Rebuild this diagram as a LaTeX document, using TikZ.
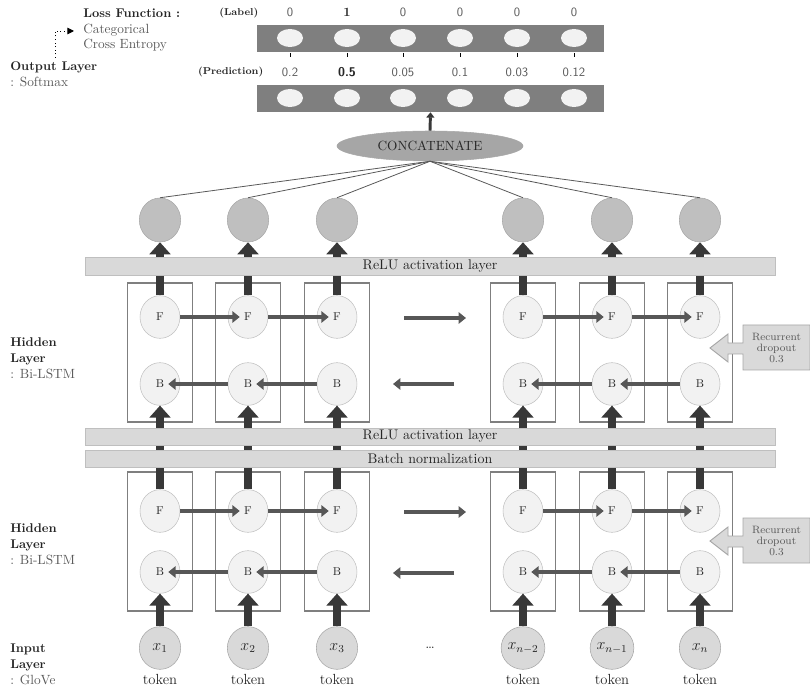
\documentclass[tikz,border=0pt]{standalone}
\usepackage{tikz}
\usetikzlibrary{arrows.meta,positioning,shapes.geometric,calc}
\definecolor{cellfill}{HTML}{F2F2F2}
\definecolor{celldraw}{HTML}{BFBFBF}
\definecolor{outfill}{HTML}{BFBFBF}
\definecolor{infill}{HTML}{D9D9D9}
\definecolor{ringdraw}{HTML}{A6A6A6}
\definecolor{barfill}{HTML}{D9D9D9}
\definecolor{boxdraw}{HTML}{7F7F7F}
\definecolor{darkarrow}{HTML}{383838}
\definecolor{midarrow}{HTML}{575757}
\definecolor{softtext}{HTML}{595959}
\definecolor{maintext}{HTML}{262626}
\definecolor{catfill}{HTML}{A6A6A6}
\definecolor{vecfill}{HTML}{7F7F7F}

\begin{document}
\begin{tikzpicture}[x=0.75pt,y=-0.75pt,
  every node/.style={text=maintext},
  cell/.style={ellipse,draw=celldraw,fill=cellfill,minimum width=30pt,minimum height=32pt,inner sep=0pt,font=\fontsize{8.5}{9}\selectfont},
  outcell/.style={ellipse,draw=ringdraw,fill=outfill,minimum width=31pt,minimum height=33pt,inner sep=0pt},
  incell/.style={ellipse,draw=ringdraw,fill=infill,minimum width=31pt,minimum height=32pt,inner sep=0pt,font=\fontsize{11.5}{12}\selectfont},
  unit/.style={ellipse,fill=cellfill,minimum width=19.5pt,minimum height=13.5pt,inner sep=0pt},
  colbox/.style={draw=boxdraw,line width=0.9pt},
  layerbar/.style={rectangle,draw=celldraw,fill=barfill,minimum width=517.5pt,inner sep=0pt,font=\fontsize{10.5}{11}\selectfont},
  vecbar/.style={rectangle,fill=vecfill,minimum width=260.25pt,minimum height=20.25pt,inner sep=0pt},
  upflow/.style={draw=darkarrow,line width=6.5pt,-{Triangle[width=15.5pt,length=9pt]}},
  sideflow/.style={draw=midarrow,line width=3pt,-{Triangle[width=8.5pt,length=5.5pt]},shorten >=-9pt},
  gapflow/.style={draw=midarrow,line width=3pt,-{Triangle[width=8.5pt,length=5.5pt]}},
  fanline/.style={draw=softtext,line width=0.6pt},
  dropbox/.style={draw=ringdraw,fill=barfill,line width=0.7pt},
  droptext/.style={align=center,font=\fontsize{8}{8.6}\selectfont,text=softtext},
  sidelabel/.style={anchor=west,align=left,inner sep=0pt},
  valtext/.style={font=\sffamily\fontsize{9.5}{10}\selectfont,text=softtext},
  tagtext/.style={font=\bfseries\fontsize{7.5}{8}\selectfont}]
\useasboundingbox (0,0) rectangle (810,691);

% output vectors
\node[vecbar] (lbar) at (430.5,38.5) {};
\node[vecbar] (pbar) at (430.5,98.5) {};
\node[tagtext,anchor=east] (ltag) at (263,13) {(Label)};
\node[tagtext,anchor=east] (ptag) at (268,72) {(Prediction)};
\foreach \i/\x/\lv/\pv in {1/290/0/0.2,2/347/{\rmfamily\bfseries\color{maintext}1}/{\bfseries\color{maintext}0.5},3/403/0/0.05,4/460/0/0.1,5/517/0/0.03,6/574/0/0.12}{
  \node[unit] (l\i) at (\x,38) {};
  \node[unit] (p\i) at (\x,98) {};
  \node[valtext] (lv\i) at (\x,12) {\lv};
  \node[valtext] (pv\i) at (\x,72) {\pv};
  \draw[densely dashed,line width=0.6pt] (\x,53) -- (\x,59);
}

% side labels
\node[sidelabel] (loss) at (83,30) {{\bfseries\fontsize{9.5}{15}\selectfont Loss Function :}\\
  {\fontsize{10}{14}\selectfont\color{softtext}Categorical}\\[-1pt]
  {\fontsize{10}{14}\selectfont\color{softtext}Cross Entropy}};
\node[sidelabel] (outlbl) at (10,74.5) {{\bfseries\fontsize{9.5}{11}\selectfont Output Layer}\\
  {\fontsize{10}{11}\selectfont\color{softtext}: Softmax}};
\coordinate (dotstart) at (55,58);
\coordinate (dotend) at (74,31);
\draw[dotted,line width=0.7pt,-{Triangle[width=5pt,length=5pt]}] (dotstart) |- (dotend);
\node[sidelabel] (hidup) at (10,358) {{\bfseries\fontsize{9.5}{11}\selectfont Hidden}\\
  {\bfseries\fontsize{9.5}{11}\selectfont Layer}\\
  {\fontsize{10}{11}\selectfont\color{softtext}: Bi-LSTM}};
\node[sidelabel] (hidlow) at (10,544) {{\bfseries\fontsize{9.5}{11}\selectfont Hidden}\\
  {\bfseries\fontsize{9.5}{11}\selectfont Layer}\\
  {\fontsize{10}{11}\selectfont\color{softtext}: Bi-LSTM}};
\node[sidelabel] (inlbl) at (10,664) {{\bfseries\fontsize{9.5}{11.5}\selectfont Input}\\
  {\bfseries\fontsize{9.5}{11.5}\selectfont Layer}\\
  {\fontsize{10}{11.5}\selectfont\color{softtext}: GloVe}};

% columns
\foreach \i/\x/\lab in {1/160/x_1,2/248/x_2,3/337/x_3,4/523/x_{n-2},5/612/x_{n-1},6/700/x_n}{
  \draw[colbox] (\x-32.5,283) rectangle (\x+32.5,422);
  \draw[colbox] (\x-32.5,472) rectangle (\x+32.5,611);
  \node[outcell] (o\i) at (\x,220) {};
  \node[cell] (fa\i) at (\x,317) {F};
  \node[cell] (ba\i) at (\x,384) {B};
  \node[cell] (fb\i) at (\x,511) {F};
  \node[cell] (bb\i) at (\x,572) {B};
  \node[incell] (in\i) at (\x,648) {$\lab$};
  \node[font=\fontsize{11}{12}\selectfont] (tok\i) at (\x,679) {token};
  \draw[upflow] (in\i) -- (bb\i);
  \draw[upflow] (fb\i) -- (ba\i);
  \draw[upflow] (fa\i) -- (o\i);
}
\node[font=\fontsize{11}{12}\selectfont] (dots) at (430,648) {\ldots};

% recurrent links
\foreach \a/\b in {1/2,2/3,4/5,5/6}{
  \draw[sideflow] (fa\a.east) -- (fa\b.west);
  \draw[sideflow] (ba\b.west) -- (ba\a.east);
  \draw[sideflow] (fb\a.east) -- (fb\b.west);
  \draw[sideflow] (bb\b.west) -- (bb\a.east);
}
\coordinate (gfa) at (404,318);
\coordinate (gfb) at (466,318);
\coordinate (gba) at (454,384);
\coordinate (gbb) at (393,384);
\draw[gapflow] (gfa) -- (gfb);
\draw[gapflow] (gba) -- (gbb);
\coordinate (hfa) at (404,512);
\coordinate (hfb) at (466,512);
\coordinate (hba) at (454,573);
\coordinate (hbb) at (393,573);
\draw[gapflow] (hfa) -- (hfb);
\draw[gapflow] (hba) -- (hbb);

% layer bars
\node[layerbar,minimum height=13.5pt] (reluup) at (430,266) {ReLU activation layer};
\node[layerbar,minimum height=12.75pt] (relulow) at (430,436.5) {ReLU activation layer};
\node[layerbar,minimum height=12.75pt] (bnorm) at (430,458.5) {Batch normalization};

% merge
\node[ellipse,draw=ringdraw,fill=catfill,minimum width=139.5pt,minimum height=22.5pt,inner sep=0pt,font=\fontsize{10}{10}\selectfont] (concat) at (430,146) {CONCATENATE};
\foreach \i in {1,...,6}
  \draw[fanline] (concat.south) -- (o\i.north);
\draw[draw=darkarrow,line width=2.2pt,-{Triangle[width=6pt,length=4pt]}] (concat.north) -- (pbar.south);

% dropout callouts
\foreach \dy/\nm in {0/dropup,193/droplow}{
  \draw[dropbox] (710,348+\dy) -- (728,334+\dy) -- (728,343+\dy) -- (743,343+\dy) -- (743,325+\dy)
    -- (810,325+\dy) -- (810,370+\dy) -- (743,370+\dy) -- (743,354+\dy) -- (728,354+\dy) -- (728,362+\dy) -- cycle;
  \node[droptext] (\nm) at (776.5,348+\dy) {Recurrent\\dropout\\0.3};
}
\end{tikzpicture}
\end{document}
